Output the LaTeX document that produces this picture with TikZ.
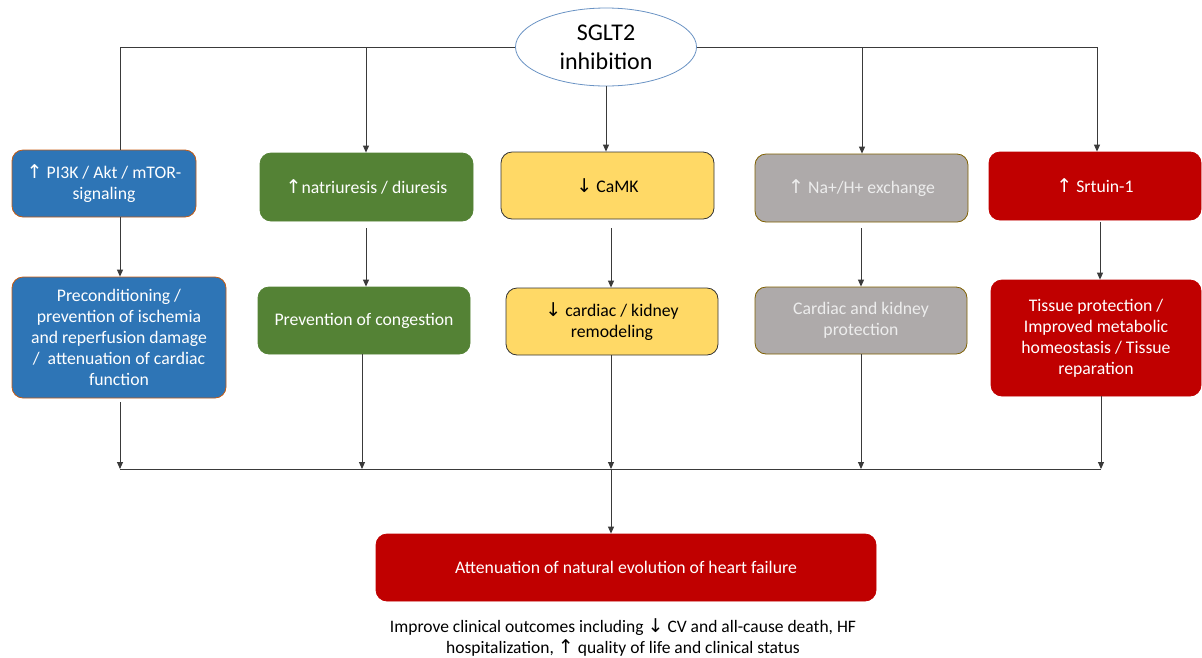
\documentclass[tikz,border=0pt]{standalone}
\usepackage{fontspec}
\setmainfont{Carlito}
\newfontfamily\arrowfont{DejaVu Sans}
\usetikzlibrary{arrows.meta,shapes.geometric}
\newcommand{\upa}{{\arrowfont\fontsize{19}{16}\selectfont ↑}}
\newcommand{\dna}{{\arrowfont\fontsize{19}{16}\selectfont ↓}}
\definecolor{cblue}{HTML}{2E75B6}
\definecolor{cgreen}{HTML}{548235}
\definecolor{cyellow}{HTML}{FFD966}
\definecolor{cgray}{HTML}{AEAAAA}
\definecolor{cred}{HTML}{C00000}
\definecolor{corange}{HTML}{C55A11}
\definecolor{cbrown}{HTML}{7F6000}
\definecolor{cline}{HTML}{3A3A3A}
\definecolor{cellipse}{HTML}{6A93C4}
\definecolor{cgraytext}{HTML}{EDEDED}
\tikzset{
  box/.style={rounded corners=11pt, align=center, inner sep=2pt, line width=0.8pt,
    font=\fontsize{17.7}{21}\selectfont},
  conn/.style={draw=cline, line width=0.9pt},
  arr/.style={conn, -{Triangle[length=7pt,width=6pt]}},
}
\begin{document}
\begin{tikzpicture}[x=1pt,y=-1pt]
\useasboundingbox (0,0) rectangle (1202,657);

% top ellipse
\node[ellipse, draw=cellipse, fill=white, line width=0.8pt, minimum width=181pt, minimum height=78pt,
  align=center, font=\fontsize{24}{29}\selectfont, inner sep=0pt] (sg) at (606,47) {SGLT2\\inhibition};

% row 1
\node[box, fill=cblue, draw=corange, text=white, minimum width=184pt, minimum height=67pt] (b1) at (104,183.5) {\upa\ PI3K / Akt / mTOR-\\signaling};
\node[box, fill=cgreen, draw=cgreen, text=white, minimum width=213pt, minimum height=68pt] (b2) at (366.5,187) {\upa natriuresis / diuresis};
\node[box, fill=cyellow, draw=black!80, text=black, minimum width=213pt, minimum height=67pt] (b3) at (607.5,185.5) {\dna\ CaMK};
\node[box, fill=cgray, draw=cbrown, text=cgraytext, minimum width=213pt, minimum height=68pt] (b4) at (861.5,188) {\upa\ Na+/H+ exchange};
\node[box, fill=cred, draw=cred, text=white, minimum width=212pt, minimum height=68pt] (b5) at (1095,186) {\upa\ Srtuin-1};

% row 2
\node[box, fill=cblue, draw=corange, text=white, minimum width=214pt, minimum height=121pt] (b6) at (119,337.5) {Preconditioning /\\prevention of ischemia\\and reperfusion damage\\/\ \ attenuation of cardiac\\function};
\node[box, fill=cgreen, draw=cgreen, text=white, minimum width=212pt, minimum height=67pt] (b7) at (364,320.5) {Prevention of congestion};
\node[box, fill=cyellow, draw=black!80, text=black, minimum width=212pt, minimum height=67pt] (b8) at (612,321.5) {\dna\ cardiac / kidney\\remodeling};
\node[box, fill=cgray, draw=cbrown, text=cgraytext, minimum width=212pt, minimum height=67pt] (b9) at (861,320.5) {Cardiac and kidney\\protection};
\node[box, fill=cred, draw=cred, text=white, minimum width=210pt, minimum height=116pt] (b10) at (1096,338) {Tissue protection /\\Improved metabolic\\homeostasis / Tissue\\reparation};

% bottom
\node[box, fill=cred, draw=cred, text=white, minimum width=500pt, minimum height=67pt] (b11) at (626,567.5) {Attenuation of natural evolution of heart failure};
\node[align=center, font=\fontsize{17.5}{21}\selectfont, inner sep=0pt] (out) at (623,637) {Improve clinical outcomes including \dna\ CV and all-cause death, HF\\hospitalization, \upa\ quality of life and clinical status};

% top connectors
\draw[conn] (sg.west) -| (120,0 |- b1.north);
\draw[arr] (sg.west) -| (366,0 |- b2.north);
\draw[arr] (sg.south) -- (606,0 |- b3.north);
\draw[arr] (sg.east) -| (862,0 |- b4.north);
\draw[arr] (sg.east) -| (1097,0 |- b5.north);

% row 1 -> row 2
\draw[arr] (120,0 |- b1.south) -- (120,0 |- b6.north);
\draw[arr] (366,228) -- (366,0 |- b7.north);
\draw[arr] (611,228) -- (611,0 |- b8.north);
\draw[arr] (861,228) -- (861,0 |- b9.north);
\draw[arr] (1100,222) -- (1100,0 |- b10.north);

% merge
\coordinate (m1) at (120,469);
\coordinate (m2) at (362,469);
\coordinate (m3) at (611,469);
\coordinate (m4) at (861,469);
\coordinate (m5) at (1101,469);
\draw[arr] (120,402) -- (m1);
\draw[arr] (362,0 |- b7.south) -- (m2);
\draw[arr] (611,0 |- b8.south) -- (m3);
\draw[arr] (861,0 |- b9.south) -- (m4);
\draw[arr] (1101,0 |- b10.south) -- (m5);
\draw[conn] (m1) -- (m5);
\draw[arr] (m3) -- (611,0 |- b11.north);
\end{tikzpicture}
\end{document}
